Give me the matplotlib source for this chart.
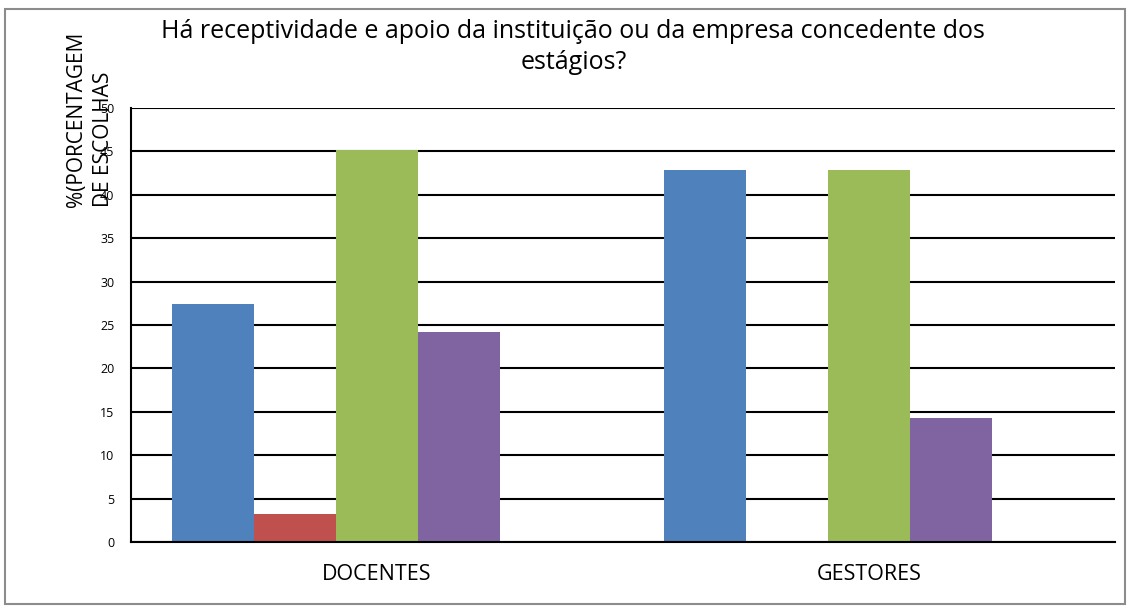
import numpy as np
import matplotlib
matplotlib.use("Agg")
import matplotlib.pyplot as plt
from matplotlib.patches import Rectangle

# data
categories = ["DOCENTES", "GESTORES"]
serie_1 = [27.4, 42.9]
serie_2 = [3.2, 0.0]
serie_3 = [45.2, 42.9]
serie_4 = [24.2, 14.3]
serie_5 = [0.0, 0.0]
y_ticks = [0, 5, 10, 15, 20, 25, 30, 35, 40, 45, 50]

series = [serie_1, serie_2, serie_3, serie_4, serie_5]
colors = ["#4F81BD", "#C0504D", "#9BBB59", "#8064A2", "#4BACC6"]

plt.rcParams['font.family'] = ['Open Sans', 'DejaVu Sans']

fig = plt.figure(figsize=(11.31, 6.09), dpi=100)
ax = fig.add_axes([0.1158, 0.110, 0.870, 0.7127])

# outer chart border
fig.patches.append(Rectangle((0.0045, 0.008), 0.990, 0.977, transform=fig.transFigure,
                             fill=False, edgecolor="#8c8c8c", linewidth=1.5))

x = np.arange(len(categories))
width = 1 / 6
for i, (vals, c) in enumerate(zip(series, colors)):
    ax.bar(x + (i - 2) * width, vals, width, color=c, zorder=3)

ax.set_xlim(-0.5, 1.5)
ax.set_ylim(0, 50)
ax.set_yticks(y_ticks)
ax.set_yticklabels([str(t) for t in y_ticks], fontsize=9)
ax.set_xticks(x)
ax.set_xticklabels(categories, fontsize=15.5)
ax.tick_params(axis='x', length=0, pad=16)
ax.tick_params(axis='y', length=0, pad=12)
ax.grid(axis='y', color='black', linewidth=1.5, zorder=1)

for s in ['top', 'right']:
    ax.spines[s].set_visible(False)
ax.spines['left'].set_linewidth(1.5)
ax.spines['bottom'].set_linewidth(1.5)
ax.spines['bottom'].set_zorder(4)

fig.text(0.507, 1 - 47 / 609, "Há receptividade e apoio da instituição ou da empresa concedente dos\nestágios?",
         ha='center', va='center', fontsize=18, linespacing=1.36)

fig.text(0.0795, 1 - 207 / 609, "%(PORCENTAGEM\nDE ESCOLHAS", rotation=90, ha='center', va='bottom',
         multialignment='left', fontsize=15, linespacing=1.42)

fig.savefig("out.png", dpi=100)
